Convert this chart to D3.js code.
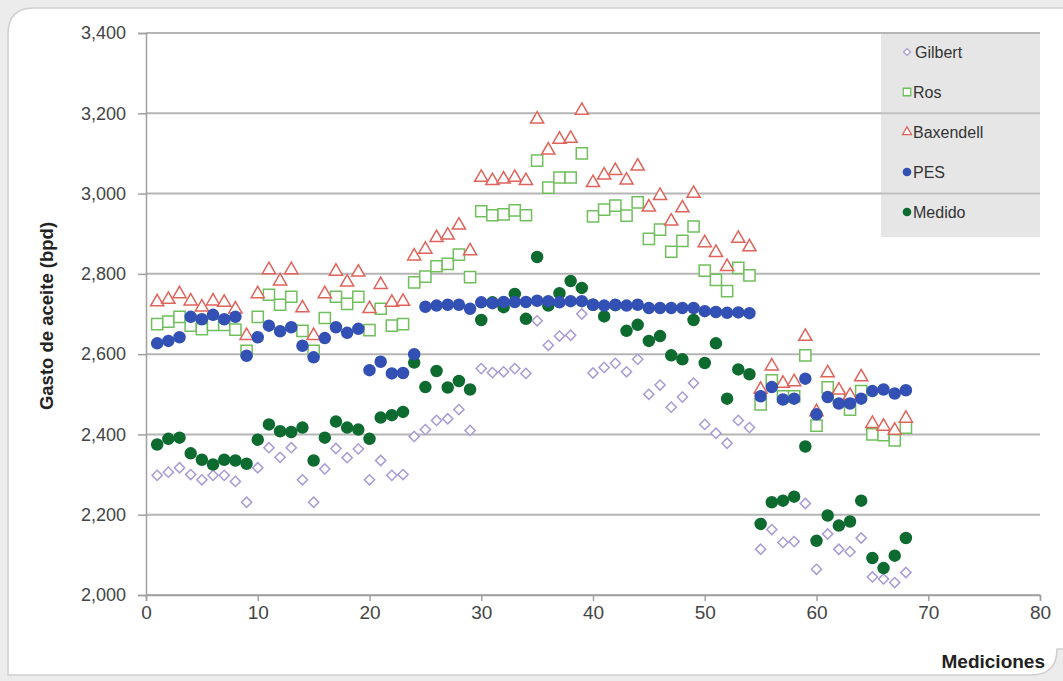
<!DOCTYPE html>
<html>
<head>
<meta charset="utf-8">
<script src="https://cdn.jsdelivr.net/npm/d3@7"></script>
<style>
  body { margin: 0; background: #ececec; }
  svg { display: block; }
</style>
</head>
<body>
<svg id="chart" width="1063" height="681"></svg>
<script>
// series names, same order as the legend
const seriesNames = ["Gilbert", "Ros", "Baxendell", "PES", "Medido"];

const gilbert = [2298, 2306, 2317, 2300, 2287, 2298, 2298, 2283, 2231, 2317,
  2367, 2343, 2367, 2287, 2231, 2314, 2365, 2342, 2364, 2287,
  2335, 2298, 2300, 2395, 2412, 2435, 2439, 2462, 2410, 2564,
  2554, 2556, 2564, 2552, 2683, 2622, 2645, 2647, 2700, 2553,
  2567, 2577, 2556, 2587, 2500, 2523, 2468, 2493, 2528, 2425,
  2403, 2378, 2435, 2417, 2114, 2163, 2131, 2133, 2228, 2064,
  2152, 2114, 2108, 2142, 2045, 2040, 2031, 2056];

const ros = [2675, 2681, 2693, 2671, 2662, 2673, 2673, 2661, 2608, 2693,
  2748, 2723, 2743, 2658, 2608, 2690, 2743, 2725, 2743, 2660,
  2713, 2671, 2675, 2779, 2793, 2819, 2825, 2848, 2792, 2956,
  2946, 2948, 2958, 2946, 3082, 3015, 3040, 3040, 3100, 2943,
  2960, 2970, 2945, 2978, 2887, 2910, 2855, 2882, 2918, 2808,
  2785, 2757, 2815, 2796, 2475, 2535, 2495, 2495, 2597, 2422,
  2517, 2493, 2462, 2508, 2400, 2398, 2385, 2417];

const baxendell = [2730, 2736, 2750, 2732, 2717, 2732, 2729, 2712, 2646, 2750,
  2810, 2782, 2810, 2715, 2646, 2750, 2806, 2779, 2804, 2713,
  2773, 2729, 2731, 2844, 2861, 2890, 2896, 2921, 2857, 3040,
  3032, 3036, 3040, 3032, 3185, 3108, 3135, 3137, 3207, 3027,
  3046, 3057, 3033, 3068, 2966, 2995, 2931, 2964, 3000, 2877,
  2853, 2818, 2888, 2867, 2512, 2570, 2527, 2531, 2644, 2456,
  2553, 2510, 2497, 2543, 2427, 2420, 2410, 2440];

const pes = [2627, 2633, 2642, 2693, 2687, 2698, 2687, 2693, 2596, 2642,
  2671, 2657, 2667, 2621, 2592, 2640, 2667, 2653, 2663, 2560,
  2581, 2552, 2553, 2600, 2718, 2721, 2723, 2723, 2713, 2729,
  2727, 2730, 2730, 2730, 2733, 2732, 2729, 2732, 2732, 2723,
  2721, 2723, 2721, 2723, 2715, 2715, 2715, 2715, 2715, 2707,
  2705, 2703, 2704, 2702, 2495, 2518, 2487, 2489, 2539, 2450,
  2493, 2477, 2477, 2489, 2508, 2512, 2502, 2510];

const medido = [2375, 2389, 2392, 2353, 2337, 2325, 2337, 2335, 2327, 2387,
  2425, 2408, 2406, 2417, 2335, 2392, 2432, 2417, 2412, 2389,
  2442, 2448, 2456, 2579, 2518, 2558, 2517, 2533, 2512, 2685,
  2729, 2717, 2750, 2688, 2842, 2721, 2752, 2782, 2765, 2723,
  2694, 2722, 2658, 2673, 2633, 2645, 2597, 2587, 2685, 2578,
  2627, 2489, 2562, 2550, 2177, 2231, 2235, 2245, 2370, 2135,
  2198, 2173, 2183, 2235, 2092, 2067, 2098, 2142];

const xTicks = [0, 10, 20, 30, 40, 50, 60, 70, 80];
const yTicks = [2000, 2200, 2400, 2600, 2800, 3000, 3200, 3400];

const svg = d3.select("#chart");
const W = 1063;
const plotLeft = 146, plotRight = 1040, plotTop = 33, plotBottom = 595;
const narrow = "'Liberation Sans Narrow', 'Liberation Sans', Arial, sans-serif";

// white panel with two rounded corners
const r = 26, px0 = 8, py0 = 8, px1 = 1057, py1 = 675;
svg.append("path")
  .attr("d", `M${px0},${py0 + r} Q${px0},${py0} ${px0 + r},${py0} L${W + 5},${py0} L${W + 5},${py1 - r}
    L${px1},${py1 - r} Q${px1},${py1} ${px1 - r},${py1} L${px0},${py1} Z`)
  .attr("fill", "#ffffff")
  .attr("stroke", "#cfcfcf")
  .attr("stroke-width", 1.5);

const x = d3.scaleLinear().domain([0, 80]).range([plotLeft, plotRight]);
const y = d3.scaleLinear().domain([2000, 3400]).range([plotBottom, plotTop]);

// gridlines
svg.append("g")
  .selectAll("line")
  .data(yTicks)
  .enter()
  .append("line")
  .attr("x1", plotLeft)
  .attr("x2", plotRight)
  .attr("y1", d => y(d))
  .attr("y2", d => y(d))
  .attr("stroke", "#b5b5b5")
  .attr("stroke-width", 2);

// y axis
const yAxis = svg.append("g")
  .attr("transform", `translate(${plotLeft},0)`)
  .call(d3.axisLeft(y).tickValues(yTicks).tickFormat(d3.format(",")).tickSize(8).tickPadding(12));
yAxis.select(".domain").attr("stroke", "#a0a0a0").attr("stroke-width", 1.5);
yAxis.selectAll(".tick line").attr("stroke", "#a0a0a0").attr("stroke-width", 1.5);
yAxis.selectAll(".tick text")
  .attr("fill", "#444")
  .style("font-family", "'Liberation Sans', Arial, sans-serif")
  .style("font-size", "18px");

// x axis
const xAxis = svg.append("g")
  .attr("transform", `translate(0,${plotBottom})`)
  .call(d3.axisBottom(x).tickValues(xTicks).tickSize(6).tickPadding(5));
xAxis.select(".domain").attr("stroke", "#a0a0a0").attr("stroke-width", 1.5);
xAxis.selectAll(".tick line").attr("stroke", "#a0a0a0").attr("stroke-width", 1.5);
xAxis.selectAll(".tick text")
  .attr("fill", "#444")
  .style("font-family", narrow)
  .style("font-size", "19px");

// axis titles
svg.append("text")
  .attr("transform", `translate(53,${(plotTop + plotBottom) / 2 + 2}) rotate(-90)`)
  .attr("text-anchor", "middle")
  .style("font-family", narrow)
  .style("font-weight", "bold")
  .style("font-size", "18.5px")
  .attr("fill", "#222")
  .text("Gasto de aceite (bpd)");

svg.append("text")
  .attr("x", 1045)
  .attr("y", 668)
  .attr("text-anchor", "end")
  .style("font-family", narrow)
  .style("font-weight", "bold")
  .style("font-size", "19px")
  .attr("fill", "#222")
  .text("Mediciones");

// marker styles per series
const styles = {
  Gilbert: { type: d3.symbolSquare, size: 52, rotate: 45, fill: "#ffffff", stroke: "#a99ad6" },
  Ros: { type: d3.symbolSquare, size: 125, rotate: 0, fill: "#ffffff", stroke: "#6fbf5c" },
  Baxendell: { type: d3.symbolTriangle, size: 75, rotate: 0, fill: "#ffffff", stroke: "#e0635b" },
  PES: { type: d3.symbolCircle, size: 95, rotate: 0, fill: "#3350b4", stroke: "#3350b4" },
  Medido: { type: d3.symbolCircle, size: 95, rotate: 0, fill: "#0d6b30", stroke: "#0d6b30" }
};

const seriesValues = { Gilbert: gilbert, Ros: ros, Baxendell: baxendell, PES: pes, Medido: medido };

// draw order: PES last so it sits on top
const drawOrder = ["Gilbert", "Ros", "Baxendell", "Medido", "PES"];
drawOrder.forEach(function (name) {
  const st = styles[name];
  svg.append("g")
    .selectAll("path")
    .data(seriesValues[name])
    .enter()
    .append("path")
    .attr("d", d3.symbol().type(st.type).size(st.size))
    .attr("transform", (d, i) => `translate(${x(i + 1)},${y(d)}) rotate(${st.rotate})`)
    .attr("fill", st.fill)
    .attr("stroke", st.stroke)
    .attr("stroke-width", 1.5);
});

// legend
const legend = svg.append("g");
legend.append("rect")
  .attr("x", 881)
  .attr("y", 34)
  .attr("width", 159)
  .attr("height", 203)
  .attr("fill", "rgba(205,205,205,0.5)");

const legendY = d3.scalePoint().domain(seriesNames).range([52, 212]);
seriesNames.forEach(function (name) {
  const st = styles[name];
  legend.append("path")
    .attr("d", d3.symbol().type(st.type).size(st.size * 0.45))
    .attr("transform", `translate(907,${legendY(name)}) rotate(${st.rotate})`)
    .attr("fill", st.fill)
    .attr("stroke", st.stroke)
    .attr("stroke-width", 1.3);
  legend.append("text")
    .attr("x", name === "Gilbert" ? 915 : 913)
    .attr("y", legendY(name))
    .attr("dy", "0.35em")
    .style("font-family", "'Liberation Sans', Arial, sans-serif")
    .style("font-size", "16px")
    .attr("fill", "#333")
    .text(name);
});
</script>
</body>
</html>
